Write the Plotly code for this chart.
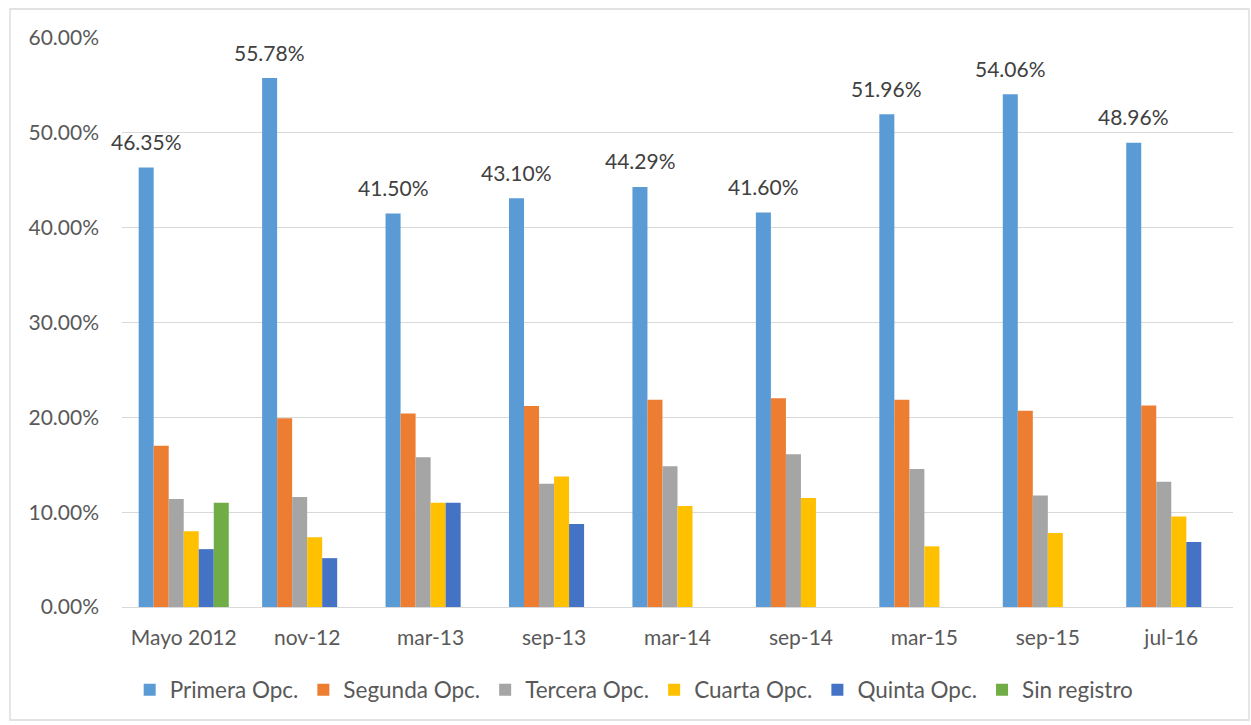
import plotly.graph_objects as go

categories = ["Mayo 2012", "nov-12", "mar-13", "sep-13", "mar-14", "sep-14", "mar-15", "sep-15", "jul-16"]

primera = [46.35, 55.78, 41.50, 43.10, 44.29, 41.60, 51.96, 54.06, 48.96]
segunda = [17.0, 19.9, 20.4, 21.2, 21.85, 22.0, 21.85, 20.7, 21.25]
tercera = [11.4, 11.6, 15.8, 13.0, 14.85, 16.1, 14.55, 11.75, 13.2]
cuarta = [8.0, 7.35, 11.0, 13.75, 10.65, 11.5, 6.4, 7.8, 9.55]
quinta = [6.1, 5.15, 11.0, 8.75, None, None, None, None, 6.85]
sin_registro = [11.0, None, None, None, None, None, None, None, None]

series = [
    ("Primera Opc.", primera, "#5B9BD5"),
    ("Segunda Opc.", segunda, "#ED7D31"),
    ("Tercera Opc.", tercera, "#A5A5A5"),
    ("Cuarta Opc.", cuarta, "#FFC000"),
    ("Quinta Opc.", quinta, "#4472C4"),
    ("Sin registro", sin_registro, "#70AD47"),
]

FONT = "Lato"

fig = go.Figure()
for name, vals, color in series:
    fig.add_trace(go.Bar(
        x=categories, y=vals, name=name,
        marker=dict(color=color, line=dict(width=0)),
        hoverinfo="skip",
    ))

# data labels for the first series (bar center is offset from category center)
for c, v in zip(categories, primera):
    fig.add_annotation(
        x=c, y=v, text=f"{v:.2f}%", showarrow=False,
        xref="x", yref="y", xanchor="center", yanchor="middle",
        xshift=-37.5, yshift=26,
        font=dict(family=FONT, size=21, color="#404040"),
    )

# outer chart border
fig.add_shape(
    type="rect", xref="paper", yref="paper",
    x0=(10 - 122) / 1111, x1=(1249 - 122) / 1111,
    y0=(607 - 720) / 569, y1=(607 - 9) / 569,
    line=dict(color="#D9D9D9", width=1.3), fillcolor="rgba(0,0,0,0)",
    layer="below",
)

fig.update_layout(
    width=1251, height=725,
    margin=dict(l=122, r=18, t=38, b=118, autoexpand=False),
    paper_bgcolor="white", plot_bgcolor="white",
    barmode="group", bargap=0.27, bargroupgap=0,
    font=dict(family=FONT, size=21, color="#595959"),
    showlegend=True,
    legend=dict(
        orientation="h", x=0.461, xanchor="center", y=-0.146, yanchor="middle",
        font=dict(family=FONT, size=22.5, color="#595959"),
        traceorder="normal", itemwidth=30,
    ),
    xaxis=dict(
        range=[-0.5, len(categories) - 0.5],
        showgrid=False, showline=True, linecolor="#D9D9D9", linewidth=1.3,
        ticks="", ticklabelstandoff=12, automargin=False,
        tickfont=dict(family=FONT, size=21, color="#595959"),
        fixedrange=True,
    ),
    yaxis=dict(
        range=[0, 60], dtick=10, tickformat=".2f", ticksuffix="%",
        showgrid=True, gridcolor="#D9D9D9", gridwidth=1.3,
        zeroline=False, showline=False, ticks="", automargin=False,
        ticklabelstandoff=22,
        tickfont=dict(family=FONT, size=21, color="#595959"),
        fixedrange=True,
    ),
)

fig.write_html("out.html")
